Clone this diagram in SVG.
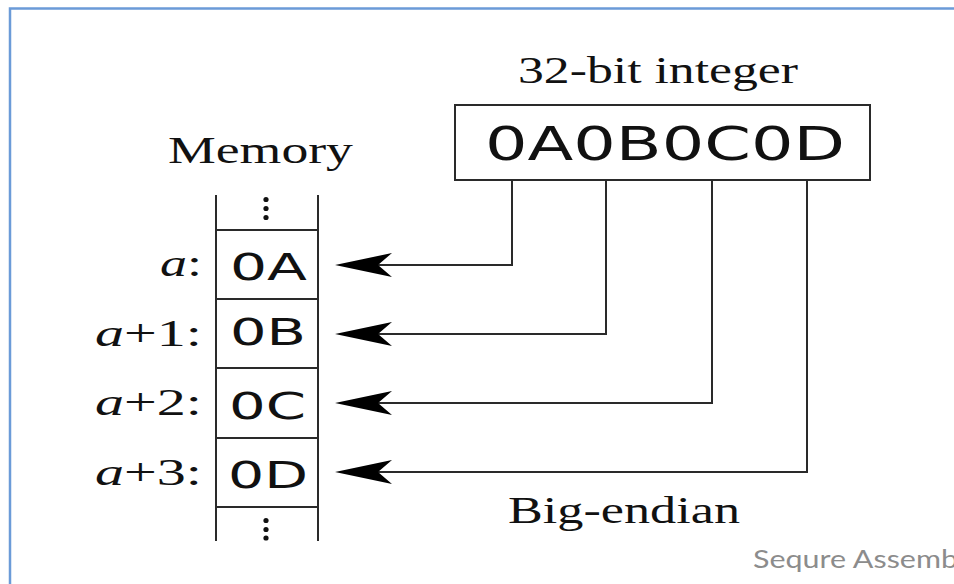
<svg xmlns="http://www.w3.org/2000/svg" width="954" height="584" viewBox="0 0 954 584">
<defs>
<style>
.serif{font-family:"Liberation Serif","Times New Roman",serif;fill:#111;}
.sans{font-family:"DejaVu Sans","Liberation Sans",sans-serif;fill:#111;}
.ln{stroke:#2a2a2a;stroke-width:2;fill:none;}
.head{fill:#000;stroke:none;}
.dot{fill:#111;}
</style>
</defs>
<rect x="0" y="0" width="954" height="584" fill="#fff"/>
<path d="M10,584 V8.5 H954" fill="none" stroke="#6b9bd8" stroke-width="2.5"/>

<g id="title-integer">
<text class="serif" x="518" y="83" font-size="37" textLength="280" lengthAdjust="spacingAndGlyphs">32-bit integer</text>
</g>
<g id="integer">
<rect class="ln" x="455" y="105" width="415" height="75"/>
<text class="sans" x="485" y="160" font-size="46" textLength="360" lengthAdjust="spacingAndGlyphs">0A0B0C0D</text>
</g>
<g id="title-memory">
<text class="serif" x="168" y="163" font-size="37" textLength="185" lengthAdjust="spacingAndGlyphs">Memory</text>
</g>
<g id="memory">
<line class="ln" x1="216" y1="195" x2="216" y2="541"/>
<line class="ln" x1="318" y1="195" x2="318" y2="541"/>
<line class="ln" x1="216" y1="230" x2="318" y2="230"/>
<line class="ln" x1="216" y1="299" x2="318" y2="299"/>
<line class="ln" x1="216" y1="368" x2="318" y2="368"/>
<line class="ln" x1="216" y1="438" x2="318" y2="438"/>
<line class="ln" x1="216" y1="507" x2="318" y2="507"/>
<circle class="dot" cx="266" cy="199.5" r="2.6"/>
<circle class="dot" cx="266" cy="208.5" r="2.6"/>
<circle class="dot" cx="266" cy="217.5" r="2.6"/>
<circle class="dot" cx="266" cy="520.5" r="2.6"/>
<circle class="dot" cx="266" cy="529.5" r="2.6"/>
<circle class="dot" cx="266" cy="538" r="2.6"/>
</g>
<g id="cell-0A">
<text class="sans" x="230" y="280" font-size="37" textLength="77" lengthAdjust="spacingAndGlyphs">0A</text>
<text class="serif" x="160" y="276" font-size="37" textLength="42" lengthAdjust="spacingAndGlyphs"><tspan font-style="italic">a</tspan>:</text>
</g>
<g id="cell-0B">
<text class="sans" x="230" y="345" font-size="37" textLength="76" lengthAdjust="spacingAndGlyphs">0B</text>
<text class="serif" x="95" y="346" font-size="37" textLength="107" lengthAdjust="spacingAndGlyphs"><tspan font-style="italic">a</tspan>+1:</text>
</g>
<g id="cell-0C">
<text class="sans" x="229" y="419" font-size="37" textLength="77" lengthAdjust="spacingAndGlyphs">0C</text>
<text class="serif" x="95" y="415" font-size="37" textLength="107" lengthAdjust="spacingAndGlyphs"><tspan font-style="italic">a</tspan>+2:</text>
</g>
<g id="cell-0D">
<text class="sans" x="228" y="488" font-size="37" textLength="80" lengthAdjust="spacingAndGlyphs">0D</text>
<text class="serif" x="95" y="485" font-size="37" textLength="107" lengthAdjust="spacingAndGlyphs"><tspan font-style="italic">a</tspan>+3:</text>
</g>
<g id="label-big-endian">
<text class="serif" x="508" y="523" font-size="37" textLength="232" lengthAdjust="spacingAndGlyphs">Big-endian</text>
</g>

<g id="connectors">
<polyline class="ln" points="512,180 512,265 378,265"/>
<path class="head" d="M335,265 L392,253 L378,265 L392,277 Z"/>
<polyline class="ln" points="606,180 606,334 378,334"/>
<path class="head" d="M335,334 L392,322 L378,334 L392,346 Z"/>
<polyline class="ln" points="712,180 712,403 378,403"/>
<path class="head" d="M335,403 L392,391 L378,403 L392,415 Z"/>
<polyline class="ln" points="807,180 807,472 378,472"/>
<path class="head" d="M335,472 L392,460 L378,472 L392,484 Z"/>
</g>

<text x="753" y="568" font-family="Lato,'Open Sans',sans-serif" font-size="25" fill="#8c8c8c" textLength="205" lengthAdjust="spacingAndGlyphs">Sequre Assemb</text>
</svg>
